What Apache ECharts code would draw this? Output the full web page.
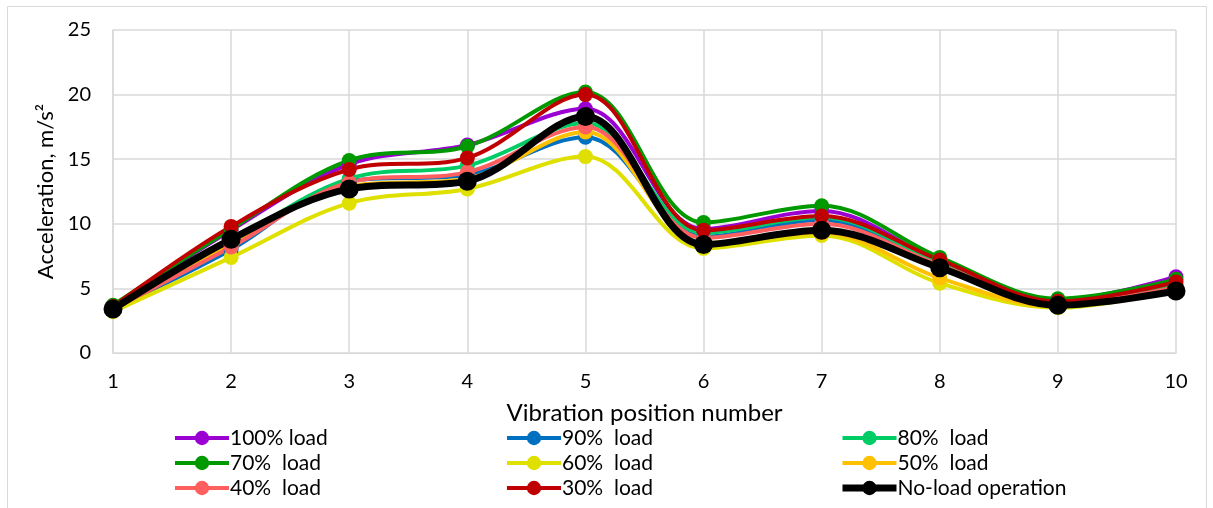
<!DOCTYPE html>
<html>
<head>
<meta charset="utf-8">
<script src="https://cdn.jsdelivr.net/npm/echarts@6/dist/echarts.min.js"></script>
<style>
  html, body { margin: 0; padding: 0; background: #fff; }
  #chart { width: 1213px; height: 508px; }
</style>
</head>
<body>
<div id="chart"></div>
<script>
const positions = ["1", "2", "3", "4", "5", "6", "7", "8", "9", "10"];

const load100 = [3.6, 9.5, 14.6, 16.1, 18.9, 9.6, 11.0, 7.1, 4.1, 5.9];
const load90 = [3.4, 8.0, 13.3, 13.8, 16.7, 9.0, 10.3, 6.9, 3.8, 5.1];
const load80 = [3.5, 8.6, 13.5, 14.5, 17.8, 9.3, 10.5, 7.0, 3.9, 5.2];
const load70 = [3.7, 9.6, 14.9, 16.0, 20.2, 10.1, 11.4, 7.4, 4.2, 5.7];
const load60 = [3.2, 7.4, 11.6, 12.7, 15.2, 8.1, 9.1, 5.4, 3.5, 4.9];
const load50 = [3.3, 8.4, 12.9, 13.5, 17.1, 8.5, 9.3, 5.8, 3.6, 5.0];
const load40 = [3.4, 8.2, 13.2, 14.0, 17.5, 8.9, 10.0, 6.8, 3.8, 5.1];
const load30 = [3.6, 9.8, 14.2, 15.1, 20.0, 9.5, 10.6, 7.2, 4.0, 5.5];
const noLoad = [3.4, 8.8, 12.7, 13.3, 18.3, 8.4, 9.5, 6.6, 3.7, 4.8];

const yTicks = [0, 5, 10, 15, 20, 25];

const seriesDefs = [
  { name: "100% load", data: load100, color: "#9b00d3" },
  { name: "90%  load", data: load90, color: "#0070c0" },
  { name: "80%  load", data: load80, color: "#00cc66" },
  { name: "70%  load", data: load70, color: "#009900" },
  { name: "60%  load", data: load60, color: "#e0e000" },
  { name: "50%  load", data: load50, color: "#ffc000" },
  { name: "40%  load", data: load40, color: "#ff5f5f" },
  { name: "30%  load", data: load30, color: "#c00000" },
  { name: "No-load operation", data: noLoad, color: "#000000" },
];

const font = "Lato, 'Open Sans', sans-serif";
const isBlack = (name) => name === "No-load operation";

const chart = echarts.init(document.getElementById("chart"), null, { renderer: "canvas" });

// one vertical legend per column, so the three columns line up like the original
const legendColumn = (left, names) => ({
  orient: "vertical",
  left: left,
  top: 422,
  height: 100,
  itemWidth: 54,
  itemHeight: 18,
  itemGap: 3,
  textStyle: { fontFamily: font, fontSize: 21, lineHeight: 22, color: "#000", padding: [0, 0, 0, -4] },
  data: names.map((n) => ({ name: n, lineStyle: { width: isBlack(n) ? 7 : 4 } })),
});

chart.setOption({
  backgroundColor: "#fff",
  animation: false,
  graphic: [
    {
      type: "rect",
      shape: { x: 7.5, y: 6.5, width: 1199, height: 510 },
      style: { fill: "none", stroke: "#d9d9d9", lineWidth: 1 },
      z: -1,
    },
  ],
  grid: { left: 113, right: 37, top: 30, bottom: 155 },
  legend: [
    legendColumn(168, ["100% load", "70%  load", "40%  load"]),
    legendColumn(500, ["90%  load", "60%  load", "30%  load"]),
    legendColumn(834, ["80%  load", "50%  load", "No-load operation"]),
  ],
  xAxis: {
    type: "category",
    data: positions,
    boundaryGap: false,
    name: "Vibration position number",
    nameLocation: "middle",
    nameGap: 48,
    nameTextStyle: { fontFamily: font, fontSize: 24, color: "#000" },
    axisLine: { lineStyle: { color: "#d9d9d9", width: 1 } },
    axisTick: { show: false },
    axisLabel: { fontFamily: font, fontSize: 20, color: "#000", margin: 19 },
    splitLine: { show: true, lineStyle: { color: "#d9d9d9", width: 1.5 } },
  },
  yAxis: {
    type: "value",
    min: yTicks[0],
    max: yTicks[yTicks.length - 1],
    interval: 5,
    name: "Acceleration, m/s²",
    nameLocation: "middle",
    nameGap: 55,
    nameRotate: 90,
    nameTextStyle: { fontFamily: font, fontSize: 22, color: "#000" },
    axisLine: { show: true, lineStyle: { color: "#d9d9d9", width: 1.5 } },
    axisTick: { show: false },
    axisLabel: { fontFamily: font, fontSize: 20, color: "#000", margin: 22 },
    splitLine: { show: true, lineStyle: { color: "#d9d9d9", width: 1.5 } },
  },
  series: seriesDefs.map((s) => ({
    name: s.name,
    type: "line",
    data: s.data,
    smooth: 0.35,
    symbol: "circle",
    symbolSize: isBlack(s.name) ? 19 : 15,
    itemStyle: { color: s.color },
    lineStyle: { color: s.color, width: isBlack(s.name) ? 7 : 4 },
    emphasis: { disabled: true },
  })),
});
</script>
</body>
</html>
